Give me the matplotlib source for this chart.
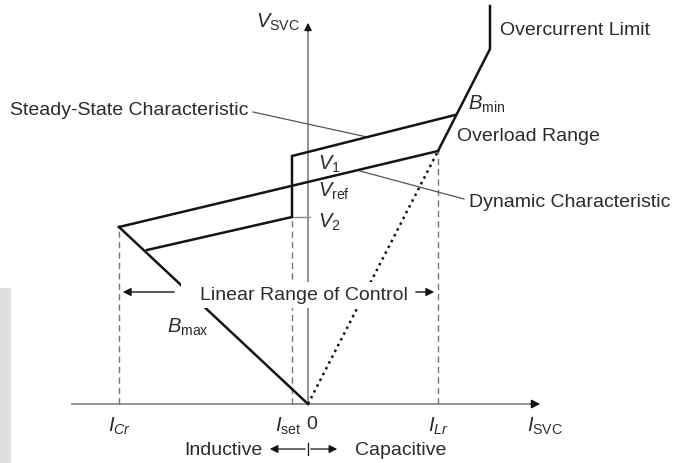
import matplotlib
matplotlib.use('Agg')
import matplotlib.pyplot as plt
from matplotlib.patches import Rectangle

plt.rcParams['font.family'] = ['Liberation Sans', 'DejaVu Sans']
plt.rcParams['mathtext.fontset'] = 'custom'
plt.rcParams['mathtext.rm'] = 'Liberation Sans'
plt.rcParams['mathtext.it'] = 'Liberation Sans:italic'

# currents on the I axis (arbitrary units)
I_Cr = -1.89
I_set = -0.16
I_Lr = 1.30
I_lim = 1.82

# voltage levels
V_Cr = 1.77      # steady-state line at I_Cr
V_Lr = 2.53      # steady-state line at I_Lr
V1 = 2.48        # top of dynamic step at I_set
V2 = 1.87        # bottom of dynamic step at I_set
Bmin_pt = (1.47, 2.89)
Bmax_pt = (-1.61, 1.54)
V_knee = 3.55
V_top = 3.98

# leader lines (start, end)
lead_steady = ([-0.55, 0.59], [2.92, 2.67])
lead_dynamic = ([0.52, 1.56], [2.33, 2.05])

ink = '#141414'
grey = '#8a8a8a'
txt = '#2b2b2b'

fig = plt.figure(figsize=(6.73, 4.64), dpi=100)
ax = fig.add_axes([0, 0, 1, 1])
ax.set_xlim(-3.08, 3.65)
ax.set_ylim(-0.59, 4.05)
ax.axis('off')

# watermark strip on the left edge
ax.add_patch(Rectangle((-3.08, -0.59), 0.11, 1.75, fc='#e0e0e0', ec='none', zorder=0))

# axes
ax.plot([-2.36, 2.28], [0, 0], color=grey, lw=1.3, zorder=1)
ax.plot([0, 0], [0, 3.76], color=grey, lw=1.3, zorder=1)
ax.annotate('', xy=(2.35, 0), xytext=(2.2, 0),
            arrowprops=dict(arrowstyle='-|>', color=ink, lw=1, mutation_scale=13))
ax.annotate('', xy=(0, 3.84), xytext=(0, 3.70),
            arrowprops=dict(arrowstyle='-|>', color=ink, lw=1, mutation_scale=11))

# dashed guides
for x, top in [(I_Cr, V_Cr), (I_set, V2), (I_Lr, V_Lr)]:
    ax.plot([x, x], [0, top], color='#777777', lw=1.0, ls=(0, (4.5, 3)), zorder=1)

# steady-state characteristic
ax.plot([I_Cr, I_Lr], [V_Cr, V_Lr], color=ink, lw=1.8, zorder=3)
# B_max line
ax.plot([0, I_Cr], [0, V_Cr], color=ink, lw=1.8, zorder=3)
# dynamic characteristic
ax.plot([Bmax_pt[0], I_set, I_set, Bmin_pt[0]], [Bmax_pt[1], V2, V1, Bmin_pt[1]],
        color=ink, lw=1.8, zorder=3, solid_joinstyle='miter')
ax.plot([I_set, 0.02], [V2, V2], color=grey, lw=1.0, zorder=2)
# B_min line: dotted from origin, solid above
ax.plot([0, I_Lr], [0, V_Lr], color=ink, lw=1.8, ls=(0, (1, 1.6)), zorder=3)
ax.plot([I_Lr, I_lim, I_lim], [V_Lr, V_knee, V_top], color=ink, lw=1.8, zorder=3,
        solid_joinstyle='miter')

# leader lines
ax.plot(*lead_steady, color='#555555', lw=0.9, zorder=2)
ax.plot(*lead_dynamic, color='#555555', lw=0.9, zorder=2)

fs = 14
ms = 14.5
ax.text(-0.08, 3.83, r'$V_{\mathrm{SVC}}$', fontsize=ms, color=txt, ha='right', va='center')
ax.text(1.92, 3.74, 'Overcurrent Limit', fontsize=fs, color=txt, va='center')
ax.text(-2.98, 2.94, 'Steady-State Characteristic', fontsize=fs, color=txt, va='center')
ax.text(1.60, 3.01, r'$B_{\mathrm{min}}$', fontsize=ms, color=txt, va='center')
ax.text(1.49, 2.68, 'Overload Range', fontsize=fs, color=txt, va='center')
ax.text(1.61, 2.02, 'Dynamic Characteristic', fontsize=fs, color=txt, va='center')
ax.text(0.10, 2.41, r'$V_1$', fontsize=ms, color=txt, va='center')
ax.text(0.10, 2.14, r'$V_{\mathrm{ref}}$', fontsize=ms, color=txt, va='center')
ax.text(0.10, 1.83, r'$V_2$', fontsize=ms, color=txt, va='center')
ax.text(-1.41, 0.78, r'$B_{\mathrm{max}}$', fontsize=ms, color=txt, va='center')

# linear range of control with its white knock-out
ax.add_patch(Rectangle((-1.27, 0.96), 2.31, 0.26, fc='white', ec='none', zorder=5))
ax.text(-1.08, 1.09, 'Linear Range of Control', fontsize=fs, color=txt, va='center', zorder=6)
ax.annotate('', xy=(I_Cr + 0.01, 1.12), xytext=(-1.31, 1.12),
            arrowprops=dict(arrowstyle='-|>', color=ink, lw=1, mutation_scale=12))
ax.annotate('', xy=(I_Lr - 0.01, 1.12), xytext=(1.05, 1.12),
            arrowprops=dict(arrowstyle='-|>', color=ink, lw=1, mutation_scale=12))

# tick labels
ax.text(I_Cr, -0.21, r'$I_{Cr}$', fontsize=ms, color=txt, ha='center', va='center')
ax.text(-0.07, -0.21, r'$I_{\mathrm{set}}$', fontsize=ms, color=txt, ha='right', va='center')
ax.text(0.04, -0.20, '0', fontsize=fs, color=txt, ha='center', va='center')
ax.text(I_Lr, -0.21, r'$I_{Lr}$', fontsize=ms, color=txt, ha='center', va='center')
ax.text(2.19, -0.21, r'$I_{\mathrm{SVC}}$', fontsize=ms, color=txt, va='center')

# inductive / capacitive
ax.text(-0.46, -0.46, 'Inductive', fontsize=fs, color=txt, ha='right', va='center')
ax.text(0.47, -0.46, 'Capacitive', fontsize=fs, color=txt, va='center')
ax.annotate('', xy=(-0.41, -0.45), xytext=(0, -0.45),
            arrowprops=dict(arrowstyle='-|>', color=ink, lw=0.9, mutation_scale=12))
ax.annotate('', xy=(0.32, -0.45), xytext=(0, -0.45),
            arrowprops=dict(arrowstyle='-|>', color=ink, lw=0.9, mutation_scale=12))
ax.plot([0, 0], [-0.39, -0.51], color=ink, lw=0.9)

fig.savefig('out.png', dpi=100)
